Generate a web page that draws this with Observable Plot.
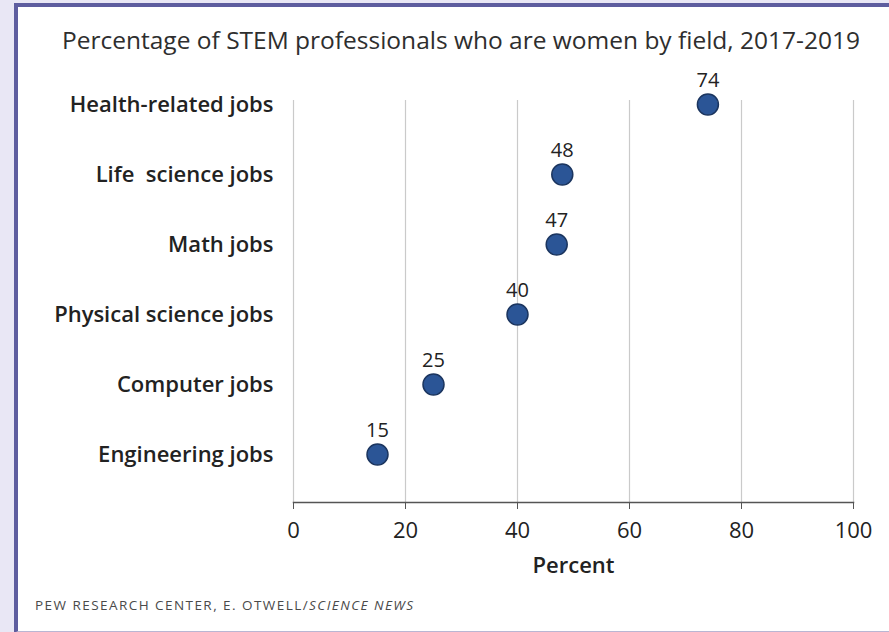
<!DOCTYPE html>
<html>
<head>
<meta charset="utf-8">
<script src="https://cdn.jsdelivr.net/npm/d3@7"></script>
<script src="https://cdn.jsdelivr.net/npm/@observablehq/plot@0.6"></script>
<style>
  html, body { margin: 0; padding: 0; }
  body { width: 889px; height: 632px; background: #e9e7f5; position: relative; overflow: hidden; font-family: "Open Sans", "Noto Sans", sans-serif; }
  #panel { position: absolute; left: 14px; top: 3px; width: 900px; height: 624px; background: #fff;
           border-top: 4px solid #5e5d9f; border-left: 4px solid #5e5d9f; border-bottom: 2px solid #b9b6d3; }
  #title { position: absolute; left: 62px; top: 25px; font-size: 24.5px; color: #2e2e2e; font-weight: 500; white-space: nowrap; line-height: 1.2; }
  #chart { position: absolute; left: 18px; top: 62px; }
  #caption { position: absolute; left: 35px; top: 597px; font-size: 13.5px; color: #4a4a4a; letter-spacing: 1.45px; white-space: nowrap; line-height: 1.2; }
</style>
</head>
<body>
<div id="panel"></div>
<div id="title">Percentage of STEM professionals who are women by field, 2017-2019</div>
<div id="chart"></div>
<div id="caption">PEW RESEARCH CENTER, E. OTWELL/<i>SCIENCE NEWS</i></div>
<script>
const fields = ["Health-related jobs", "Life  science jobs", "Math jobs", "Physical science jobs", "Computer jobs", "Engineering jobs"];
const percents = [74, 48, 47, 40, 25, 15];
const xTicks = [0, 20, 40, 60, 80, 100];

const data = fields.map((f, i) => ({field: f, pct: percents[i]}));

const chart = Plot.plot({
  width: 871,
  height: 518,
  marginLeft: 275,
  marginRight: 36,
  marginTop: 38,
  marginBottom: 78,
  style: {fontFamily: "'Open Sans', 'Noto Sans', sans-serif", background: "transparent", color: "#222"},
  x: {domain: [0, 100], ticks: xTicks},
  y: {type: "point", domain: fields, range: [41, 393], padding: 0},
  marks: [
    Plot.gridX(xTicks, {stroke: "#cacaca", strokeOpacity: 1, strokeWidth: 1.2}),
    Plot.frame({anchor: "bottom", stroke: "#555", strokeWidth: 1.5}),
    Plot.axisX({ticks: xTicks, tickSize: 7, tickPadding: 13, fontSize: 22, stroke: "#555", label: "Percent", labelAnchor: "center", labelArrow: "none", labelOffset: 70}),
    Plot.axisY({tickSize: 0, tickPadding: 20, fontSize: 22, fontWeight: "600", label: null, textAnchor: "end"}),
    Plot.dot(data, {x: "pct", y: "field", r: 10.5, fill: "#2b5596", stroke: "#1b355f", strokeWidth: 1.5}),
    Plot.text(data, {x: "pct", y: "field", text: d => String(d.pct), dy: -24, fontSize: 20, fill: "#222"})
  ]
});
document.getElementById("chart").appendChild(chart);
chart.querySelectorAll("[aria-label='x-axis label'] text").forEach(t => { t.setAttribute("font-weight", "600"); t.setAttribute("font-size", 22); });
</script>
</body>
</html>
